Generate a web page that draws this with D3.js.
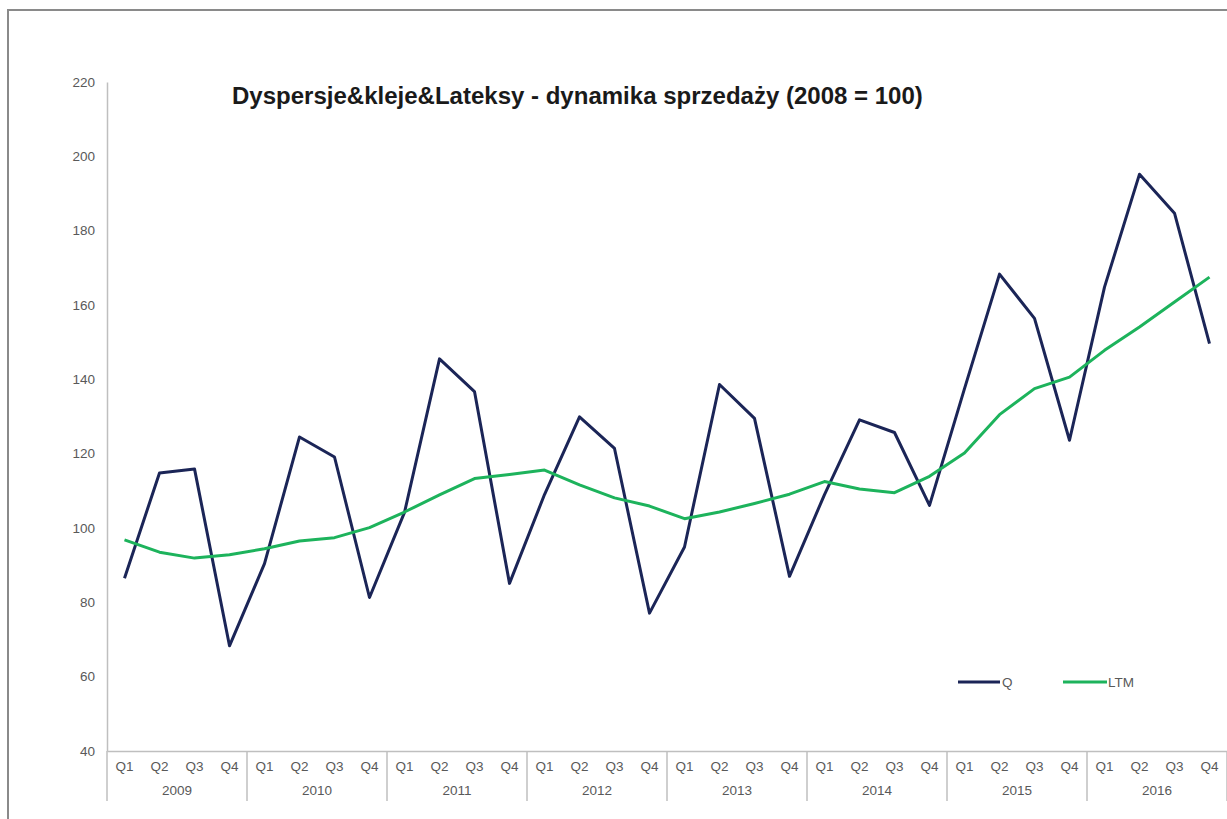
<!DOCTYPE html>
<html><head><meta charset="utf-8">
<script src="https://cdn.jsdelivr.net/npm/d3@7"></script>
<style>
html,body{margin:0;padding:0;background:#fff;}
svg{display:block;}
</style></head>
<body>
<svg id="chart" width="1227" height="819"></svg>
<script>
const years = ["2009","2010","2011","2012","2013","2014","2015","2016"];
const quarters = ["Q1","Q2","Q3","Q4"];
const qValues = [86.5,114.8,115.9,68.3, 90.4,124.5,119.1,81.3, 104.2,145.5,136.7,85.1,
                 109.0,129.9,121.4,77.1, 94.9,138.6,129.5,87.0, 109.0,129.1,125.7,106.1,
                 137.5,168.3,156.4,123.6, 164.8,195.2,184.7,149.6];
const ltmValues = [96.8,93.5,91.9,92.8, 94.4,96.5,97.4,100.1, 104.3,108.9,113.3,114.4,
                   115.6,111.6,108.1,105.9, 102.5,104.3,106.6,109.1, 112.5,110.5,109.5,113.9,
                   120.2,130.5,137.5,140.6, 147.8,154.1,160.8,167.5];
const yTicks = [40,60,80,100,120,140,160,180,200,220];
const title = "Dyspersje&kleje&Lateksy - dynamika sprzedaży (2008 = 100)";
const seriesNames = ["Q","LTM"];
const colors = ["#1b2557","#1db35c"];

(function(){
const cats = [];
years.forEach(y => quarters.forEach(q => cats.push(y + "-" + q)));

const svg = d3.select("#chart");
const mLeft = 107, mRight = 1227, mTop = 82, mBottom = 751;

// outer frame
svg.append("rect").attr("x",8).attr("y",10).attr("width",1240).attr("height",830)
  .attr("fill","none").attr("stroke","#8a8a8a").attr("stroke-width",2);

const x = d3.scaleBand().domain(cats).range([mLeft,mRight]);
const y = d3.scaleLinear().domain([40,220]).range([mBottom,mTop]);

const tickFont = "'Liberation Sans',Arial,sans-serif";
const fs = 13.5;

// y axis
const yAxis = svg.append("g").attr("transform",`translate(${mLeft},0)`)
  .call(d3.axisLeft(y).tickValues(yTicks).tickSize(0).tickPadding(12));
yAxis.select(".domain").attr("stroke","#bfbfbf").attr("stroke-width",1.5);
yAxis.selectAll("text").attr("font-family",tickFont).attr("font-size",fs).attr("fill","#595959");

// x axis (quarters)
const xAxis = svg.append("g").attr("transform",`translate(0,${mBottom})`)
  .call(d3.axisBottom(x).tickSize(0).tickPadding(10).tickFormat(d => d.split("-")[1]));
xAxis.select(".domain").attr("stroke","#bfbfbf").attr("stroke-width",1.5);
xAxis.selectAll("text").attr("font-family",tickFont).attr("font-size",fs).attr("fill","#595959");

// year separators & labels
const yearG = svg.append("g");
years.forEach((yr,i) => {
  const x0 = x(yr + "-Q1");
  const x1 = x(yr + "-Q4") + x.bandwidth();
  yearG.append("line").attr("x1",x1).attr("x2",x1).attr("y1",mBottom).attr("y2",801)
    .attr("stroke","#bfbfbf").attr("stroke-width",1.5);
  if (i === 0) yearG.append("line").attr("x1",x0).attr("x2",x0).attr("y1",mBottom).attr("y2",801)
    .attr("stroke","#bfbfbf").attr("stroke-width",1.5);
  yearG.append("text").attr("x",(x0+x1)/2).attr("y",795).attr("text-anchor","middle")
    .attr("font-family",tickFont).attr("font-size",fs).attr("fill","#595959").text(yr);
});

// lines
const line = d3.line().x((d,i) => x(cats[i]) + x.bandwidth()/2).y(d => y(d));
[qValues, ltmValues].forEach((vals,k) => {
  svg.append("path").datum(vals).attr("d",line).attr("fill","none")
    .attr("stroke",colors[k]).attr("stroke-width",3).attr("stroke-linejoin","round");
});

// title
const t = svg.append("text").attr("x",232).attr("y",104)
  .attr("font-family","'Liberation Sans',Arial,sans-serif").attr("font-weight","bold")
  .attr("font-size",20).attr("fill","#1a1a1a").text(title);
const tw = t.node().getComputedTextLength();
t.attr("font-size", 20 * 691 / tw);

// legend
const legend = [{x1:958,x2:1000,tx:1002},{x1:1063,x2:1107,tx:1108}];
legend.forEach((l,k) => {
  svg.append("line").attr("x1",l.x1).attr("x2",l.x2).attr("y1",682).attr("y2",682)
    .attr("stroke",colors[k]).attr("stroke-width",3);
  svg.append("text").attr("x",l.tx).attr("y",687).attr("font-family",tickFont)
    .attr("font-size",fs).attr("fill","#595959").text(seriesNames[k]);
});
})();
</script>
</body></html>
